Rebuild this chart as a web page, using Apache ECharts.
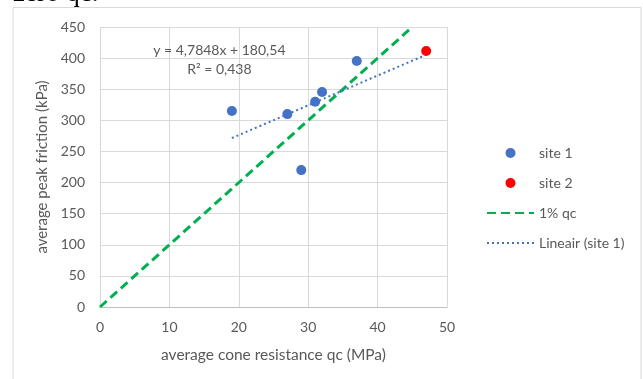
<!DOCTYPE html>
<html>
<head>
<meta charset="utf-8">
<script src="https://cdn.jsdelivr.net/npm/echarts@6/dist/echarts.min.js"></script>
<style>
html,body{margin:0;padding:0;background:#fff;}
#chart{width:643px;height:379px;}
</style>
</head>
<body>
<div id="chart"></div>
<script>
// Data
var site1X = [19, 27, 29, 31, 32, 37];
var site1Y = [315, 310, 220, 330, 345.5, 395.5];
var site2X = [47];
var site2Y = [411.5];
var qcLineX = [0, 45];
var qcLineY = [0, 450];
var trendX = [19, 47];
var trendY = [271.5, 405.4];
var xTicks = [0, 10, 20, 30, 40, 50];
var yTicks = [0, 50, 100, 150, 200, 250, 300, 350, 400, 450];
var trendEquation = 'y = 4,7848x + 180,54';
var trendR2 = 'R\u00B2 = 0,438';

function pairs(xs, ys) { return xs.map(function (x, i) { return [x, ys[i]]; }); }

var FONT = 'Lato, "Open Sans", sans-serif';
var TXT = '#595959';
var lblStyle = {show: true, position: 'inside', color: TXT, fontSize: 14, fontFamily: FONT};

var chart = echarts.init(document.getElementById('chart'), null, {renderer: 'canvas'});
chart.setOption({
  animation: false,
  backgroundColor: '#fff',
  textStyle: {fontFamily: FONT},
  grid: {left: 100, right: 196, top: 27, bottom: 72, containLabel: false},
  xAxis: {
    type: 'value', min: xTicks[0], max: xTicks[xTicks.length - 1], interval: 10,
    name: 'average cone resistance qc (MPa)', nameLocation: 'middle', nameGap: 40,
    nameTextStyle: {color: TXT, fontSize: 15.5, fontFamily: FONT},
    axisLine: {show: true, lineStyle: {color: '#bfbfbf', width: 1}},
    axisTick: {show: false},
    axisLabel: {color: TXT, fontSize: 14, fontFamily: FONT, margin: 13},
    splitLine: {show: true, lineStyle: {color: '#d9d9d9', width: 1}}
  },
  yAxis: {
    type: 'value', min: yTicks[0], max: yTicks[yTicks.length - 1], interval: 50,
    name: 'average peak friction (kPa)', nameLocation: 'middle', nameGap: 42,
    nameTextStyle: {color: TXT, fontSize: 15, fontFamily: FONT},
    axisLine: {show: false},
    axisTick: {show: false},
    axisLabel: {color: TXT, fontSize: 14, fontFamily: FONT, margin: 15},
    splitLine: {show: true, lineStyle: {color: '#d9d9d9', width: 1}}
  },
  legend: {
    orient: 'vertical', left: 481, top: 141, itemGap: 16, itemWidth: 47, itemHeight: 10,
    textStyle: {color: TXT, fontSize: 14, fontFamily: FONT},
    data: [
      {name: 'site 1', icon: 'circle'},
      {name: 'site 2', icon: 'circle'},
      {name: '1% qc', itemStyle: {opacity: 0}},
      {name: 'Lineair (site 1)', itemStyle: {opacity: 0}}
    ]
  },
  series: [
    {
      name: '1% qc', type: 'line', data: pairs(qcLineX, qcLineY), symbol: 'none',
      lineStyle: {color: '#00B050', width: 3, type: [9, 5]}, itemStyle: {color: '#00B050'}, z: 2
    },
    {
      name: 'Lineair (site 1)', type: 'line', data: pairs(trendX, trendY), symbol: 'none',
      lineStyle: {color: '#4472C4', width: 2, type: [2, 3]}, itemStyle: {color: '#4472C4'}, z: 2,
      markPoint: {
        symbol: 'circle', symbolSize: 1,
        itemStyle: {color: 'rgba(0,0,0,0)'},
        data: [
          {coord: [17.2, 412], label: Object.assign({formatter: trendEquation}, lblStyle)},
          {coord: [17.2, 381.5], label: Object.assign({formatter: trendR2}, lblStyle)}
        ]
      }
    },
    {
      name: 'site 1', type: 'scatter', data: pairs(site1X, site1Y), symbolSize: 10,
      itemStyle: {color: '#4472C4', opacity: 1}, z: 3
    },
    {
      name: 'site 2', type: 'scatter', data: pairs(site2X, site2Y), symbolSize: 10,
      itemStyle: {color: '#FF0000', opacity: 1}, z: 3
    }
  ],
  graphic: [
    {type: 'rect', shape: {x: 13, y: 7.5, width: 628, height: 400}, style: {fill: 'none', stroke: '#d9d9d9', lineWidth: 1}, silent: true, z: -1},
    {type: 'text', x: 13, y: 7, style: {text: 'zero qc.', font: '27px "Liberation Serif", serif', fill: '#000', verticalAlign: 'bottom'}, silent: true}
  ]
});
</script>
</body>
</html>
